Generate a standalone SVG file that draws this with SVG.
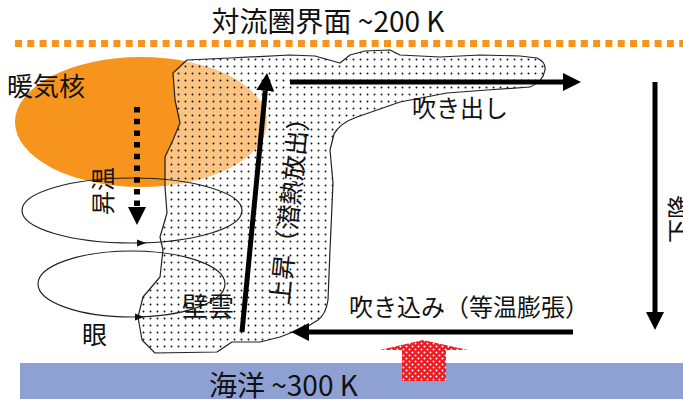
<svg xmlns="http://www.w3.org/2000/svg" width="683" height="401" viewBox="0 0 683 401">
  <defs>
    <style>
      .lbl { font-family: "Noto Sans CJK JP", "Noto Sans", sans-serif; fill: #111; }
      .ring { fill: none; stroke: #222; stroke-width: 1.2; }
      .flow { stroke: #000; stroke-width: 5; fill: none; marker-end: url(#head); }
      .tick { fill: #111; }
    </style>
    <pattern id="cloudDots" width="7" height="7" patternUnits="userSpaceOnUse">
      <rect width="7" height="7" fill="#fff" fill-opacity="0.45"/>
      <circle cx="3.5" cy="3.5" r="0.95" fill="#111"/>
    </pattern>
    <pattern id="heatDots" width="6" height="6" patternUnits="userSpaceOnUse">
      <rect width="6" height="6" fill="#ED1C24"/>
      <circle cx="1.5" cy="1.5" r="1" fill="#fff"/>
      <circle cx="4.5" cy="4.5" r="1" fill="#fff"/>
    </pattern>
    <marker id="head" viewBox="0 0 18 18" refX="0" refY="9" markerWidth="18" markerHeight="18" markerUnits="userSpaceOnUse" orient="auto">
      <path d="M0,0 L18,9 L0,18 z" fill="#000"/>
    </marker>
  </defs>

  <!-- tropopause -->
  <g id="tropopause">
    <line x1="15" y1="43.5" x2="683" y2="43.5" stroke="#F7941D" stroke-width="7" stroke-dasharray="7 5.3"/>
    <text class="lbl" x="328" y="32" font-size="28" text-anchor="middle">対流圏界面 ~200 K</text>
  </g>

  <!-- warm core -->
  <g id="warm-core">
    <ellipse cx="141" cy="122" rx="126" ry="65" fill="#F7941D"/>
  </g>

  <!-- eyewall cloud and outflow anvil -->
  <g id="cloud">
    <path d="M187,60 L230,58 L290,55 L315,56 L340,63 L350,55 L365,51 L390,50 L400,55 L440,57 L480,55 L520,56 L537,58 Q546,62 545,70 Q543,82 530,87 L487,90 L447,93 L400,102 L357,117 Q340,123 334,134 L330,150 L333,183 L330,250 L328,300 Q326,314 318,320 L305,328 L293,332 L280,337 L260,342 L232,342 L217,352 L155,353 L142,340 L138,317 L143,297 L160,277 L163,250 L160,237 L167,213 L165,187 L165,157 L173,140 L180,123 L175,100 L173,73 Z"
          fill="url(#cloudDots)" stroke="#222" stroke-width="1.2" stroke-linejoin="round"/>
  </g>

  <!-- ocean -->
  <g id="ocean">
    <rect x="20" y="363" width="663" height="36" fill="#8FA1D3"/>
    <text class="lbl" x="209" y="396" font-size="28">海洋 ~300 K</text>
  </g>

  <!-- circulation around the eye -->
  <g id="eye-circulation">
    <ellipse class="ring" cx="132" cy="210.5" rx="110" ry="32.5"/>
    <polygon class="tick" points="146,243 137,239.5 137,246.5"/>
    <ellipse class="ring" cx="131.5" cy="284" rx="93.5" ry="33"/>
    <polygon class="tick" points="144,317 135,313.5 135,320.5"/>
  </g>

  <!-- heat supply from the sea -->
  <g id="heat-flux">
    <path d="M402,381 L402,350 L380,350 L423,340 L468,350 L446,350 L446,381 Z" fill="url(#heatDots)"/>
  </g>

  <g id="connectors">
    <!-- warming descent in the eye -->
    <line x1="137" y1="107" x2="137" y2="207" stroke="#000" stroke-width="6" stroke-dasharray="5.5 6.2" marker-end="url(#head)"/>
    <!-- ascent in the eyewall -->
    <line class="flow" x1="242" y1="332" x2="265.3" y2="90.9"/>
    <!-- outflow aloft -->
    <line class="flow" x1="290" y1="82" x2="563" y2="82"/>
    <!-- inflow near the surface -->
    <line class="flow" x1="573" y1="332" x2="309" y2="332"/>
    <!-- subsidence far from the centre -->
    <line class="flow" x1="655" y1="82" x2="655" y2="312"/>
  </g>

  <!-- labels -->
  <g id="labels">
    <text class="lbl" x="7" y="96" font-size="26">暖気核</text>
    <text class="lbl" font-size="24" text-anchor="middle" transform="translate(112 191) rotate(-90)">昇温</text>
    <text class="lbl" x="82" y="344" font-size="25">眼</text>
    <text class="lbl" x="182" y="316" font-size="26">壁雲</text>
    <text class="lbl" font-size="25" text-anchor="middle" transform="translate(299 206) rotate(-84)">上昇（潜熱放出）</text>
    <text class="lbl" x="460" y="117" font-size="24" text-anchor="middle">吹き出し</text>
    <text class="lbl" x="349" y="316" font-size="24">吹き込み（等温膨張）</text>
    <text class="lbl" font-size="24" text-anchor="middle" transform="translate(688 219) rotate(-90)">下降</text>
  </g>
</svg>
